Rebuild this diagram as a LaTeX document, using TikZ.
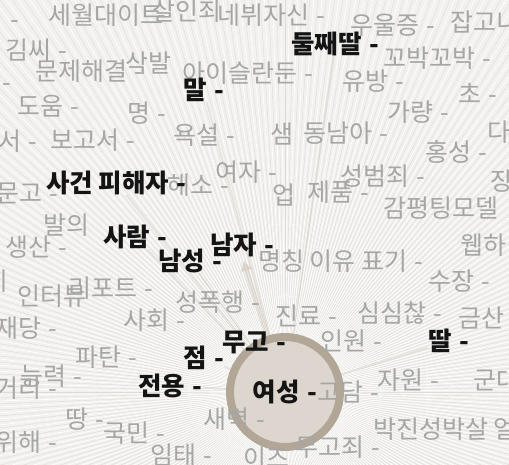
\documentclass[tikz,border=0pt]{standalone}
\usepackage{fontspec}
\setmainfont{Noto Sans CJK KR}
\usepackage{tikz}
\usetikzlibrary{arrows.meta,backgrounds}
\usepackage{xcolor}
\definecolor{bg}{HTML}{F2F1EF}
\definecolor{raygray}{HTML}{DEDAD4}
\definecolor{wordgray}{HTML}{A6A6A6}
\definecolor{ring}{HTML}{B2A696}
\definecolor{hubfill}{HTML}{DCD6CF}
\definecolor{tan}{HTML}{BDB1A2}
\newcommand{\dsh}{\hspace{.3em}-}

\begin{document}
\begin{tikzpicture}[x=1pt,y=-1pt,>=Latex,
  gw/.style={anchor=west,inner sep=0pt,text=wordgray,font=\fontsize{25}{25}\selectfont},
  bw/.style={anchor=west,inner sep=0pt,text=black!92,font=\fontsize{25.5}{25}\selectfont\bfseries},
  hub/.style={circle,draw=ring,fill=hubfill,line width=8pt,minimum size=110pt,inner sep=0pt,
    text=black!92,font=\fontsize{25.5}{25}\selectfont\bfseries},
  link/.style={draw=tan,line width=1.5pt,opacity=.3}]
\useasboundingbox (0,0) rectangle (509,465);
\node (Y) [hub] at (285,392) {여성\dsh};
% gray words
\node (g1) [gw] at (48,15) {세월대이트};
\node (g2) [gw] at (152,11) {살인죄};
\node (g3) [gw] at (157,20) {-};
\node (g4) [gw] at (217,15) {네뷔자신\dsh};
\node (g5) [gw] at (350,25) {우울증\dsh};
\node (g6) [gw] at (450,22) {잡고니};
\node (g7) [gw] at (10,25) {-};
\node (g8) [gw] at (5,50) {김씨\dsh};
\node (g9) [gw] at (35,71) {문제해결\dsh};
\node (g10) [gw] at (125,63) {삭발};
\node (g11) [gw] at (182,73) {아이슬란둔\dsh};
\node (g12) [gw] at (383,58) {꼬박꼬박\dsh};
\node (g13) [gw] at (342,81) {유방\dsh};
\node (g14) [gw] at (458,93) {초\dsh};
\node (g15) [gw] at (2,88) {-};
\node (g16) [gw] at (17,106) {도움\dsh};
\node (g17) [gw] at (127,113) {명\dsh};
\node (g18) [gw] at (387,112) {가량\dsh};
\node (g19) [gw] at (-2,141) {서\dsh};
\node (g20) [gw] at (50,140) {보고서\dsh};
\node (g21) [gw] at (173,135) {욕설\dsh};
\node (g22) [gw] at (270,134) {샘};
\node (g23) [gw] at (303,133) {동남아\dsh};
\node (g24) [gw] at (487,132) {다};
\node (g25) [gw] at (425,152) {홍성\dsh};
\node (g26) [gw] at (215,172) {여자\dsh};
\node (g27) [gw] at (167,185) {해소\dsh};
\node (g28) [gw] at (340,176) {성범죄\dsh};
\node (g29) [gw] at (490,181) {장};
\node (g30) [gw] at (272,195) {업};
\node (g31) [gw] at (307,192) {제품\dsh};
\node (g32) [gw] at (-4,193) {문고\dsh};
\node (g33) [gw] at (383,208) {감평팅모델};
\node (g34) [gw] at (43,225) {발의};
\node (g35) [gw] at (5,247) {생산\dsh};
\node (g36) [gw] at (460,245) {웹하};
\node (g37) [gw] at (258,261) {명칭 이유 표기\dsh};
\node (g38) [gw] at (428,281) {수장\dsh};
\node (g39) [gw] at (-16,281) {게};
\node (g40) [gw] at (68,288) {리포트\dsh};
\node (g41) [gw] at (17,296) {인터뷰};
\node (g42) [gw] at (175,302) {성폭행\dsh};
\node (g43) [gw] at (275,316) {진료\dsh};
\node (g44) [gw] at (357,313) {심심찮\dsh};
\node (g45) [gw] at (458,318) {금산\dsh};
\node (g46) [gw] at (123,320) {사회\dsh};
\node (g47) [gw] at (-5,328) {재당\dsh};
\node (g48) [gw] at (320,341) {인원\dsh};
\node (g49) [gw] at (75,357) {파탄\dsh};
\node (g50) [gw] at (20,376) {능력\dsh};
\node (g51) [gw] at (-5,388) {거리\dsh};
\node (g52) [gw] at (377,380) {자원\dsh};
\node (g53) [gw] at (473,380) {군대};
\node (g54) [gw] at (317,392) {고담\dsh};
\node (g55) [gw] at (65,419) {땅\dsh};
\node (g56) [gw] at (203,419) {새벽\dsh};
\node (g57) [gw] at (373,429) {박진성박살 얼};
\node (g58) [gw] at (103,433) {국민\dsh};
\node (g59) [gw] at (-5,442) {위해\dsh};
\node (g60) [gw] at (295,447) {무고죄\dsh};
\node (g61) [gw] at (150,455) {임태\dsh};
\node (g62) [gw] at (243,458) {이즈};
% black words
\node (M) [bw] at (183,90) {말\dsh};
\node (D) [bw] at (291,44) {둘째딸\dsh};
\node (S) [bw] at (46,183) {사건 피해자\dsh};
\node (P) [bw] at (103,237) {사람\dsh};
\node (Nj) [bw] at (210,245) {남자\dsh};
\node (Ns) [bw] at (158,261) {남성\dsh};
\node (Mg) [bw] at (222,342) {무고\dsh};
\node (T) [bw] at (428,341) {딸\dsh};
\node (J) [bw] at (183,358) {점\dsh};
\node (E) [bw] at (138,386) {전용\dsh};
\begin{scope}[on background layer]
\clip (0,0) rectangle (509,465);
\fill[bg] (0,0) rectangle (509,465);
\foreach \a in {0,1.2,...,358.8}
  \draw[raygray,line width=.35pt] (Y.center) -- ++(\a:800);
\foreach \a in {0.6,1.8,...,359.4}
  \draw[white,line width=.6pt] (Y.center) -- ++(\a:800);
\foreach \n in {M,D,S,P,Ns,Mg,T,J,E}
  \draw[link] (Y) -- (\n);
\draw[link,line width=5pt,-{Triangle[width=12pt,length=10pt]},shorten >=4pt] (Y) -- (Nj.south);
\end{scope}
\end{tikzpicture}
\end{document}
